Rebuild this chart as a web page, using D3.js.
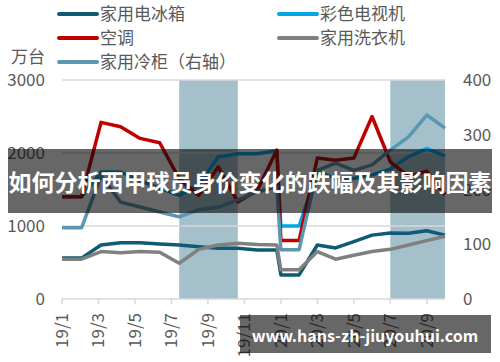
<!DOCTYPE html>
<html>
<head>
<meta charset="utf-8">
<script src="https://cdn.jsdelivr.net/npm/d3@7"></script>
<style>
body { margin: 0; background: #fff; }
svg { display: block; font-family: "Noto Sans CJK SC", "Noto Sans", sans-serif; }
</style>
</head>
<body>
<svg width="500" height="362"></svg>
<script>
// Data set (万台)
var months2019 = ["19/1","19/2","19/3","19/4","19/5","19/6","19/7","19/8","19/9","19/10","19/11","19/12"];
var months2020 = ["20/1","20/2","20/3","20/4","20/5","20/6","20/7","20/8","20/9","20/10"];
var months = months2019.concat(months2020);

var fridge  = [560,560,740,770,770,755,740,715,695,695,670,670,330,330,740,700,785,875,905,900,935,875];
var tv      = [1400,1400,1740,1740,1620,1520,1420,1560,1950,1990,1990,2030,1000,1000,1750,1650,1650,1700,1780,1950,2060,1960];
var aircon  = [1400,1400,2420,2360,2200,2140,1650,1420,1810,1330,1490,2040,800,800,1930,1900,1930,2500,1880,1680,1750,1430];
var washer  = [545,545,650,635,650,640,490,680,740,765,745,740,400,400,650,545,600,650,680,740,800,860];
var freezer = [130,130,225,177,168,159,150,163,168,181,196,205,90,90,235,248,235,245,272,296,336,312];

var seriesNames = ["家用电冰箱","彩色电视机","空调","家用洗衣机","家用冷柜（右轴）"];
var seriesColors = ["#0f5a74","#00a6e6","#c00000","#808080","#5b96b2"];
var seriesData = [fridge, tv, aircon, washer, freezer];

var shaded = [["19/7","19/10"],["20/7","20/10"]];
var leftTicks = [0,1000,2000,3000];
var rightTicks = [0,100,200,300,400];
var xLabels = months.filter(function(d, i) { return i % 2 === 0 && i < 21; });

var title = "如何分析西甲球员身价变化的跌幅及其影响因素";
var watermark = "www.hans-zh-jiuyouhui.com";

var svg = d3.select("svg");
var textColor = "#595959";

// Scales
var x = d3.scalePoint().domain(months).range([62, 445]);
// 2019 points are spread from 19/1 up to just before 20/1
var x2019 = d3.scalePoint().domain(months2019).range([x("19/1"), x("20/1") - 4]);
function xPos(m) { return months2019.indexOf(m) >= 0 ? x2019(m) : x(m); }

var yLeft = d3.scaleLinear().domain([0, 3000]).range([299, 80]);
var yRight = d3.scaleLinear().domain([0, 400]).range([299, 80]);

// Shaded periods
svg.selectAll("rect.band")
	.data(shaded)
	.enter()
	.append("rect")
	.attr("class", "band")
	.attr("x", function(d) { return xPos(d[0]); })
	.attr("width", function(d) { return xPos(d[1]) - xPos(d[0]); })
	.attr("y", yLeft(3000))
	.attr("height", yLeft(0) - yLeft(3000))
	.attr("fill", "#a4c0cb");

// Gridlines
svg.selectAll("line.grid")
	.data(leftTicks)
	.enter()
	.append("line")
	.attr("x1", x.range()[0])
	.attr("x2", x.range()[1])
	.attr("y1", function(d) { return yLeft(d); })
	.attr("y2", function(d) { return yLeft(d); })
	.attr("stroke", "#d9d9d9")
	.attr("stroke-width", 1.5);

// X ticks and labels
svg.selectAll("line.xtick")
	.data(xLabels)
	.enter()
	.append("line")
	.attr("x1", function(d) { return x(d); })
	.attr("x2", function(d) { return x(d); })
	.attr("y1", yLeft(0))
	.attr("y2", yLeft(0) + 5)
	.attr("stroke", "#d9d9d9")
	.attr("stroke-width", 1.5);

svg.selectAll("text.xlab")
	.data(xLabels)
	.enter()
	.append("text")
	.attr("transform", function(d) { return "translate(" + (x(d) + 6) + "," + (yLeft(0) + 14) + ") rotate(-90)"; })
	.attr("text-anchor", "end")
	.attr("fill", textColor)
	.attr("font-size", "17px")
	.text(function(d) { return d; });

// Y labels
svg.selectAll("text.ylab")
	.data(leftTicks)
	.enter()
	.append("text")
	.attr("x", 45)
	.attr("y", function(d) { return yLeft(d); })
	.attr("dy", "0.36em")
	.attr("text-anchor", "end")
	.attr("fill", textColor)
	.attr("font-size", "17px")
	.text(function(d) { return d; });

svg.selectAll("text.ylab2")
	.data(rightTicks)
	.enter()
	.append("text")
	.attr("x", 463)
	.attr("y", function(d) { return yRight(d); })
	.attr("dy", "0.36em")
	.attr("fill", textColor)
	.attr("font-size", "17px")
	.text(function(d) { return d; });

svg.append("text")
	.attr("x", 45)
	.attr("y", 57)
	.attr("dy", "0.36em")
	.attr("text-anchor", "end")
	.attr("fill", textColor)
	.attr("font-size", "17px")
	.text("万台");

// Lines
for (var i = 0; i < seriesData.length; i++) {
	var yScale = i === 4 ? yRight : yLeft;
	svg.append("path")
		.datum(seriesData[i])
		.attr("fill", "none")
		.attr("stroke", seriesColors[i])
		.attr("stroke-width", 3.5)
		.attr("stroke-linejoin", "round")
		.attr("d", d3.line()
			.x(function(d, j) { return xPos(months[j]); })
			.y(function(d) { return yScale(d); }));
}

// Legend
var legend = svg.selectAll("g.legend")
	.data(seriesNames)
	.enter()
	.append("g")
	.attr("transform", function(d, i) { return "translate(" + (i % 2 === 0 ? 59 : 279) + "," + (14 + Math.floor(i / 2) * 24) + ")"; });

legend.append("line")
	.attr("x1", 0)
	.attr("x2", 38)
	.attr("stroke", function(d, i) { return seriesColors[i]; })
	.attr("stroke-width", 4)
	.attr("stroke-linecap", "round");

legend.append("text")
	.attr("x", 41)
	.attr("dy", "0.36em")
	.attr("fill", textColor)
	.attr("font-size", "17px")
	.text(function(d) { return d; });

// Title banner
svg.append("rect")
	.attr("x", 8).attr("y", 149)
	.attr("width", 484).attr("height", 64)
	.attr("fill", "rgba(10,10,10,0.62)");
svg.append("text")
	.attr("x", 250).attr("y", 183)
	.attr("dy", "0.36em")
	.attr("text-anchor", "middle")
	.attr("fill", "#fff")
	.attr("font-size", "23px")
	.attr("font-weight", "bold")
	.text(title);

// Watermark
svg.append("rect")
	.attr("x", 240).attr("y", 315)
	.attr("width", 251).attr("height", 38)
	.attr("fill", "rgba(10,10,10,0.62)");
svg.append("text")
	.attr("x", 365).attr("y", 336)
	.attr("dy", "0.36em")
	.attr("text-anchor", "middle")
	.attr("fill", "#fff")
	.attr("font-size", "16px")
	.attr("font-weight", "bold")
	.text(watermark);
</script>
</body>
</html>
